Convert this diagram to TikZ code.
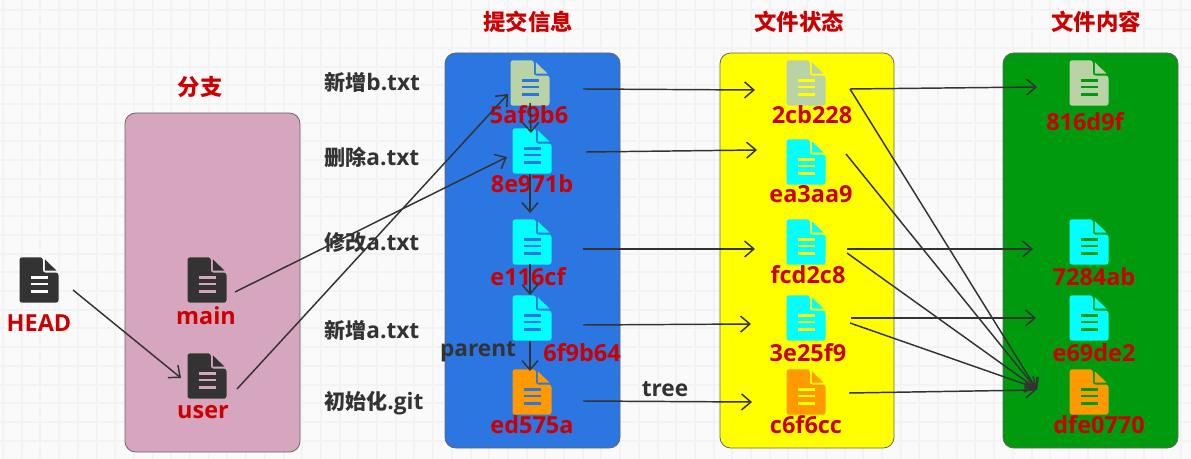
\documentclass[tikz,border=0pt]{standalone}
\usepackage{fontspec}
\setmainfont{Open Sans}
\newfontfamily\cjk{Noto Sans CJK SC}
\newcommand\zh[1]{{\fontsize{15.8}{18}\cjk #1}}
\usetikzlibrary{arrows.meta}
\definecolor{paper}{HTML}{FAFAFA}
\definecolor{gridline}{HTML}{F3F3F3}
\definecolor{inkdark}{HTML}{333333}
\definecolor{inkred}{HTML}{CC0000}
\definecolor{pinkbox}{HTML}{D5A6BD}
\definecolor{bluebox}{HTML}{2B76E0}
\definecolor{greenbox}{HTML}{009A0E}
\definecolor{sage}{HTML}{B9D3A6}
\definecolor{amber}{HTML}{FF9900}
\definecolor{aqua}{HTML}{00FFFF}
\definecolor{lemon}{HTML}{FFFF00}
\tikzset{
  panel/.style={draw=black!60,line width=.6pt,rounded corners=8pt},
  hash/.style={font=\bfseries\fontsize{17.6}{18}\selectfont,text=inkred,inner sep=0pt},
  title/.style={font=\cjk\bfseries\fontsize{16.8}{18}\selectfont,text=inkred,inner sep=0pt},
  note/.style={font=\bfseries\fontsize{17}{18}\selectfont,text=inkdark,inner sep=0pt},
  filenode/.style={minimum width=29pt,minimum height=34pt,inner sep=0pt,outer sep=0pt},
  link/.style={-{Straight Barb[length=7pt,width=12pt]},draw=inkdark,line width=1.1pt},
  pics/docicon/.style n args={2}{code={
    \fill[#1,rounded corners=2pt] (-19.5,-22.7) -- (3.8,-22.7) -- (3.8,-7.4) -- (19.5,-7.4)
      -- (19.5,22.7) -- (-19.5,22.7) -- cycle;
    \fill[#1] (5.8,-20.7) -- (17.5,-9.4) -- (5.8,-9.4) -- cycle;
    \fill[#2] (-8.5,-3.6) rectangle (9.2,-1.2);
    \fill[#2] (-8.5,2.8) rectangle (9.2,5.2);
    \fill[#2] (-8.5,10.4) rectangle (9.2,12.8);
  }}
}
\begin{document}
\begin{tikzpicture}[x=.75pt,y=-.75pt]
\useasboundingbox (0,0) rectangle (1191,459);
\fill[paper] (0,0) rectangle (1191,459);
\foreach \gx in {3,21.7,...,1191} \draw[gridline,line width=1.5pt] (\gx,0) -- (\gx,459);
\foreach \gy in {10.5,29.2,...,459} \draw[gridline,line width=1.5pt] (0,\gy) -- (1191,\gy);
% panels
\draw[panel,fill=pinkbox] (125,113) rectangle (300,452);
\draw[panel,fill=bluebox] (445,53) rectangle (620,448);
\draw[panel,fill=lemon] (720,53) rectangle (894,448);
\draw[panel,fill=greenbox] (1003,53) rectangle (1178,448);
% titles
\node[title] (branchtitle) at (200,87) {分支};
\node[title] (committitle) at (528,22) {提交信息};
\node[title] (treetitle) at (799,22) {文件状态};
\node[title] (blobtitle) at (1096,22) {文件内容};
% commit messages
\node[note,anchor=west] (msgb) at (324,82) {\zh{新增}b.txt};
\node[note,anchor=west] (msgdel) at (324,157) {\zh{删除}a.txt};
\node[note,anchor=west] (msgmod) at (324,243) {\zh{修改}a.txt};
\node[note,anchor=west] (msga) at (324,330) {\zh{新增}a.txt};
\node[note,anchor=west] (msginit) at (324,403) {\zh{初始化}.git};
% file icons
\foreach \name/\px/\py/\body/\bar in {
  head/39/280/inkdark/paper, main/207/280/inkdark/pinkbox, user/207/376/inkdark/pinkbox,
  ca/530/83/sage/bluebox, cb/532/151/aqua/bluebox, cc/532/242/aqua/bluebox,
  cd/532/318/aqua/bluebox, ce/532/392/amber/bluebox,
  ta/806/83/sage/lemon, tb/806/162/aqua/lemon, tc/806/242/aqua/lemon,
  td/806/318/aqua/lemon, te/806/392/amber/lemon,
  ba/1089/83/sage/greenbox, bb/1089/242/aqua/greenbox, bc/1089/318/aqua/greenbox,
  bd/1089/392/amber/greenbox}{
  \node[filenode] (\name) at (\px,\py) {};
  \pic at (\px,\py) {docicon={\body}{\bar}};
}
% hashes
\node[hash] (headname) at (39,323) {HEAD};
\node[hash] (mainname) at (206,316) {main};
\node[hash] (username) at (203,412) {user};
\node[hash] (hca) at (529,115) {5af9b6};
\node[hash] (hcb) at (532,184) {8e971b};
\node[hash] (hcc) at (528,277) {e116cf};
\node[hash] (hcd) at (582,353) {6f9b64};
\node[hash] (hce) at (532,425) {ed575a};
\node[hash] (hta) at (812,115) {2cb228};
\node[hash] (htb) at (811,194) {ea3aa9};
\node[hash] (htc) at (808,275) {fcd2c8};
\node[hash] (htd) at (808,353) {3e25f9};
\node[hash] (hte) at (806,425) {c6f6cc};
\node[hash] (hba) at (1085,122) {816d9f};
\node[hash] (hbb) at (1094,277) {7284ab};
\node[hash] (hbc) at (1094,353) {e69de2};
\node[hash] (hbd) at (1099,425) {dfe0770};
\node[note] (parentname) at (478,352) {parent};
\node[note] (treename) at (665,389) {tree};
% refs
\draw[link] ([shift={(34,10)}]head.center) -- ([shift={(-26,2)}]user.center);
\draw[link] ([shift={(28,12)}]main.center) -- ([shift={(-25,6)}]cb.center);
\draw[link] ([shift={(30,13)}]user.center) -- ([shift={(-22,11)}]ca.center);
% parents
\draw[link] ([shift={(0,20)}]ca.center) -- ([shift={(-1,-18)}]cb.center);
\draw[link] ([shift={(-2,23)}]cb.center) -- ([shift={(-2,-29)}]cc.center);
\draw[link] ([shift={(-2,22)}]cc.center) -- ([shift={(-2,-23)}]cd.center);
\draw[link] ([shift={(-2,23)}]cd.center) -- ([shift={(-2,-21)}]ce.center);
% trees
\draw[link] ([shift={(53,6)}]ca.center) -- ([shift={(-51,7)}]ta.center);
\draw[link] ([shift={(54,1)}]cb.center) -- ([shift={(-49,-12)}]tb.center);
\draw[link] ([shift={(51,7)}]cc.center) -- ([shift={(-51,7)}]tc.center);
\draw[link] ([shift={(51,7)}]cd.center) -- ([shift={(-55,6)}]td.center);
\draw[link] ([shift={(51,9)}]ce.center) -- ([shift={(-54,10)}]te.center);
% blobs
\draw[link] ([shift={(44,6)}]ta.center) -- ([shift={(-52,4)}]ba.center);
\draw[link] ([shift={(41,7)}]tc.center) -- ([shift={(-56,7)}]bb.center);
\draw[link] ([shift={(45,0)}]td.center) -- ([shift={(-53,0)}]bc.center);
\draw[link] ([shift={(44,6)}]ta.center) -- ([shift={(-52,-2)}]bd.center);
\draw[link] ([shift={(40,-8)}]tb.center) -- ([shift={(-52,-2)}]bd.center);
\draw[link] ([shift={(41,11)}]tc.center) -- ([shift={(-52,-3)}]bd.center);
\draw[link] ([shift={(44,5)}]td.center) -- ([shift={(-53,-4)}]bd.center);
\draw[link] ([shift={(43,1)}]te.center) -- ([shift={(-53,-2)}]bd.center);
\end{tikzpicture}
\end{document}
